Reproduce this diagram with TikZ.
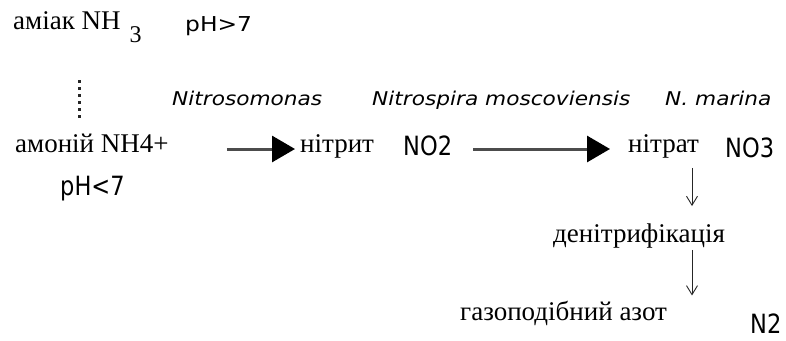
\documentclass[tikz,border=0pt]{standalone}
\usepackage{fontspec}
\setmainfont{Liberation Serif}
% narrow sans for the chemical formulas, wide sans for species names and pH>7
\newfontfamily\chemsans[FakeStretch=0.85]{DejaVu Sans}
\newfontfamily\widesans[FakeStretch=1.14]{DejaVu Sans}
\usetikzlibrary{arrows.meta}

\begin{document}
\begin{tikzpicture}[x=1pt,y=-1pt,
  every node/.style={inner sep=0pt, anchor=base west},
  serif/.style={font=\fontsize{27}{30}\selectfont},
  chem/.style={font=\chemsans\fontsize{26.5}{30}\selectfont},
  bact/.style={font=\widesans\itshape\fontsize{19}{22}\selectfont},
  phup/.style={font=\widesans\fontsize{20.5}{24}\selectfont},
  bigarrow/.style={line width=3pt, draw=black!70,
    -{Triangle[length=23pt,width=26pt,color=black]}},
  thinarrow/.style={line width=0.9pt, draw=black!85,
    -{Straight Barb[length=9pt,width=11pt,line width=0.9pt]}},
  dotline/.style={line width=3pt, draw=black!85, dash pattern=on 3pt off 4pt}
]
\useasboundingbox (0,0) rectangle (786,340);

% substances
\node[serif] (amiak) at (13,29) {аміак NH\hspace{9pt}\raisebox{-13pt}{\fontsize{24}{26}\selectfont 3}};
\node[phup] (phhigh) at (185,31) {pH>7};
\node[serif] (amon) at (15,152) {амоній NH4+};
\node[chem] (phlow) at (60,195) {pH<7};
\node[serif] (nitrit) at (300,152) {нітрит};
\node[chem] (no2) at (403,155) {NO2};
\node[serif] (nitrat) at (628,152) {нітрат};
\node[chem] (no3) at (725,157) {NO3};
\node[serif] (denit) at (553,242) {денітрифікація};
\node[serif] (gaz) at (460,320) {газоподібний азот};
\node[chem] (n2) at (750,333) {N2};

% bacteria
\node[bact] (b1) at (172,105) {Nitrosomonas};
\node[bact] (b2) at (372,105) {Nitrospira moscoviensis};
\node[bact] (b3) at (665,105) {N. marina};

% guide coordinates
\coordinate (row) at (0,149);
\coordinate (dx) at (79,0);
\coordinate (vx) at (692,0);

% ammonia / ammonium equilibrium
\draw[dotline, shorten <=38pt, shorten >=12pt] (amiak.south -| dx) -- (amon.north -| dx);

% nitrification
\draw[bigarrow, shorten <=58pt, shorten >=5pt] (amon.east |- row) -- (nitrit.west |- row);
\draw[bigarrow, shorten <=21pt, shorten >=18pt] (no2.east |- row) -- (nitrat.west |- row);

% denitrification
\draw[thinarrow, shorten <=10pt, shorten >=17pt] (nitrat.south -| vx) -- (denit.north -| vx);
\draw[thinarrow, shorten <=2pt, shorten >=5pt] (denit.south -| vx) -- (gaz.north -| vx);
\end{tikzpicture}
\end{document}
